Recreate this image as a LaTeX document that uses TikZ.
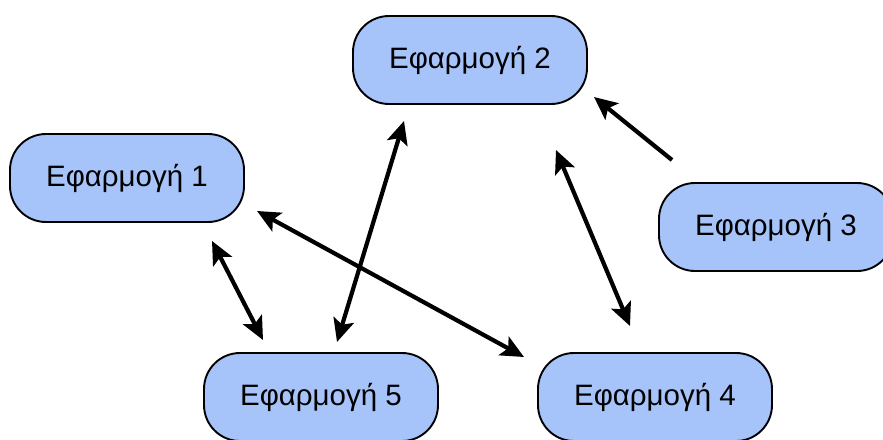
\documentclass[tikz,border=0pt]{standalone}
\usepackage{fontspec}
\setmainfont{Liberation Sans}
\usetikzlibrary{arrows.meta}
\definecolor{appfill}{HTML}{A6C4FA}
\begin{document}
\begin{tikzpicture}[x=1pt,y=-1pt,
  app/.style={draw=black,line width=1.9pt,fill=appfill,rounded corners=36pt,
    minimum width=234pt,minimum height=88pt,inner sep=0pt,font=\fontsize{29.5}{34}\selectfont},
  tip/.style={Stealth[length=23pt,width=21pt,inset=5pt]},
  link/.style={line width=4.2pt,{Stealth[length=23pt,width=21pt,inset=5pt]}-{Stealth[length=23pt,width=21pt,inset=5pt]}},
  onelink/.style={line width=4.2pt,-{Stealth[length=23pt,width=21pt,inset=5pt]}}]
\useasboundingbox (0,0) rectangle (883,439);
\clip (0,0) rectangle (883,439);

% application boxes
\node[app] (a2) at (470,60) {Εφαρμογή 2};
\node[app] (a1) at (127,178) {Εφαρμογή 1};
\node[app] (a3) at (776,227) {Εφαρμογή 3};
\node[app] (a5) at (321,397) {Εφαρμογή 5};
\node[app] (a4) at (655,397) {Εφαρμογή 4};

% arrow end points
\coordinate (p32a) at (672,160);
\coordinate (p32b) at (594,97);
\coordinate (p24a) at (556,150);
\coordinate (p24b) at (630,326);
\coordinate (p14a) at (257,211);
\coordinate (p14b) at (524,357);
\coordinate (p25a) at (404,121);
\coordinate (p25b) at (337,342);
\coordinate (p15a) at (212,241);
\coordinate (p15b) at (263,340);

% connectors
\draw[onelink] (p32a) -- (p32b);
\draw[link] (p24a) -- (p24b);
\draw[link] (p14a) -- (p14b);
\draw[link] (p25a) -- (p25b);
\draw[link] (p15a) -- (p15b);
\end{tikzpicture}
\end{document}
